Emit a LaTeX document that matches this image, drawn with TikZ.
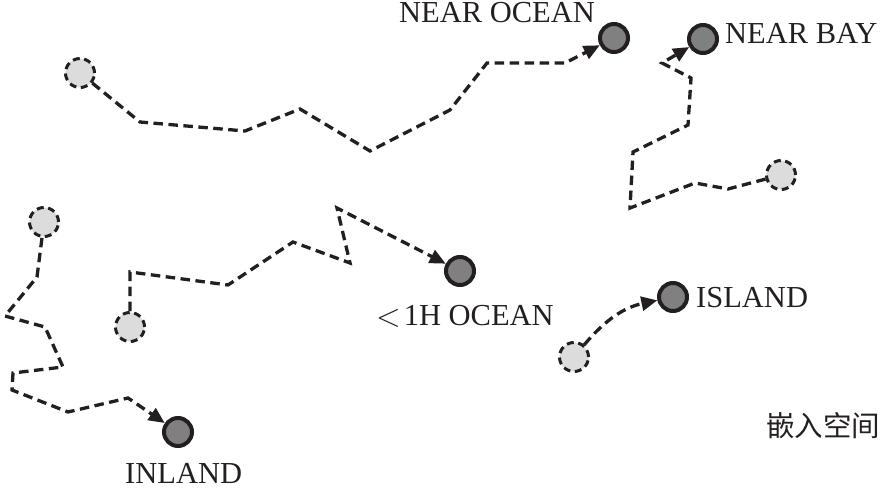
\documentclass[tikz,border=0pt]{standalone}
\usepackage{fontspec}
\setmainfont{Liberation Serif}
\newfontfamily\cjk{Noto Sans CJK SC}
\usetikzlibrary{arrows.meta}
\definecolor{ink}{RGB}{35,31,32}
\definecolor{darkfill}{RGB}{128,128,128}
\definecolor{lightfill}{RGB}{220,220,220}
\begin{document}
\begin{tikzpicture}[x=1pt,y=-1pt,
  endnode/.style={circle,draw=ink,fill=darkfill,line width=4pt,minimum size=28pt,inner sep=0pt},
  startnode/.style={circle,draw=ink,fill=lightfill,line width=3pt,dash pattern=on 7pt off 4.5pt,minimum size=29pt,inner sep=0pt},
  walk/.style={draw=ink,line width=3.3pt,dash pattern=on 9.5pt off 5.5pt},
  walkarrow/.style={walk,-{Triangle[length=16pt,width=14pt]}},
  lbl/.style={font=\fontsize{30.5}{33}\selectfont,inner sep=0pt,text=ink}]
\useasboundingbox (0,0) rectangle (885,489);

% nodes
\node[startnode] (s1) at (80,73) {};
\node[endnode] (no) at (614,38) {};
\node[endnode] (nb) at (703,39) {};
\node[startnode] (s2) at (781,175) {};
\node[startnode] (s3) at (130,327) {};
\node[endnode] (oh) at (460,271) {};
\node[startnode] (s4) at (44,222) {};
\node[endnode] (in) at (178,432) {};
\node[startnode] (s5) at (574,357) {};
\node[endnode] (is) at (673,297) {};

% labels
\node[lbl,anchor=base west] (lno) at (399,23) {NEAR OCEAN};
\node[lbl,anchor=base west] (lnb) at (725,44) {NEAR BAY};
\node[lbl,anchor=base west] (loh) at (376,325) {\raisebox{-1pt}{\scalebox{1.3}{$<$}}\hspace{3pt}1H OCEAN};
\node[lbl,anchor=base west] (lis) at (696,307) {ISLAND};
\node[lbl,anchor=base west] (lin) at (125,483) {INLAND};
\node[inner sep=0pt,text=ink,font=\cjk\fontsize{28.5}{30}\selectfont] (lem) at (823,426) {嵌入空间};

% walks
\draw[walkarrow] (s1) -- (140,122) -- (245,131) -- (300,109) -- (370,151) -- (450,110) -- (487,63) -- (565,63) -- (no);
\draw[walkarrow] (s2) -- (728,189) -- (695,183) -- (630,208) -- (633,152) -- (688,125) -- (691,78) -- (662,63) -- (nb);
\draw[walkarrow] (s3) -- (130,272) -- (228,285) -- (293,242) -- (350,263) -- (337,208) -- (oh);
\draw[walkarrow] (s4) -- (37,277) -- (5,316) -- (45,327) -- (63,367) -- (13,373) -- (12,390) -- (68,412) -- (128,398) -- (in);
\draw[walkarrow] (s5) to[out=50,in=192] (is);
\end{tikzpicture}
\end{document}
